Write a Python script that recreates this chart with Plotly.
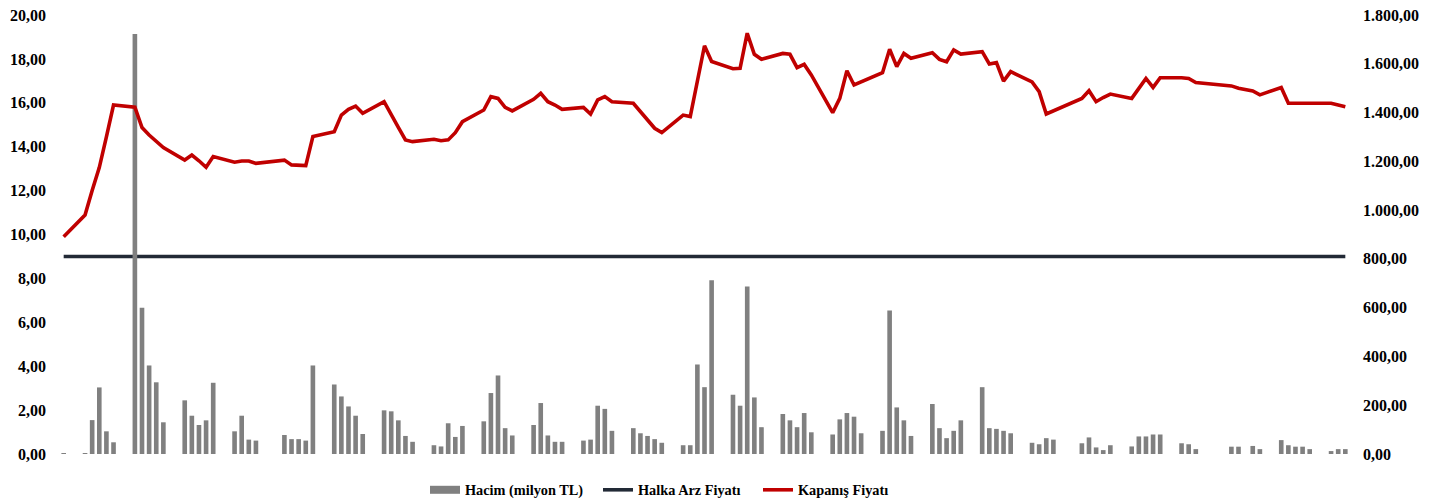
import plotly.graph_objects as go

# Trading-day index (calendar days since the first trading day; weekends/holidays are empty slots)
days = [0, 3, 4, 5, 6, 7, 10, 11, 12, 13, 14, 17, 18, 19, 20, 21, 24, 25, 26, 27,
        31, 32, 33, 34, 35, 38, 39, 40, 41, 42, 45, 46, 47, 48, 49, 52, 53, 54, 55, 56,
        59, 60, 61, 62, 63, 66, 67, 68, 69, 70, 73, 74, 75, 76, 77, 80, 81, 82, 83, 84,
        87, 88, 89, 90, 91, 94, 95, 96, 97, 98, 101, 102, 103, 104, 105, 108, 109, 110, 111, 112,
        115, 116, 117, 118, 119, 122, 123, 124, 125, 126, 129, 130, 131, 132, 133, 136, 137, 138, 139,
        143, 144, 145, 146, 147, 150, 151, 152, 153, 154, 157, 158, 159, 164, 165, 167, 168,
        171, 172, 173, 174, 175, 178, 179, 180]

# Hacim (milyon TL) - right axis
hacim = [4, 4, 139, 273, 93, 48, 1722, 600, 363, 294, 130, 220, 157, 119, 138, 292, 93, 157, 59, 55,
         78, 61, 61, 55, 363, 285, 236, 195, 157, 82, 179, 175, 138, 74, 50, 36, 31, 126, 70, 115,
         134, 250, 322, 106, 76, 119, 209, 76, 50, 50, 55, 59, 198, 185, 95, 106, 85, 74, 61, 46,
         36, 36, 367, 274, 712, 243, 198, 687, 232, 110, 164, 138, 110, 168, 89, 80, 142, 168, 153, 85,
         95, 588, 191, 138, 74, 205, 106, 65, 95, 138, 274, 106, 103, 95, 85, 46, 40, 65, 59,
         44, 68, 27, 16, 36, 31, 72, 72, 80, 80, 44, 40, 20, 30, 30, 33, 20,
         57, 36, 30, 30, 20, 12, 20, 20]

# Kapanis Fiyati (TL) - left axis
kapanis = [9.90, 10.89, 12.00, 13.05, 14.45, 15.90, 15.80, 14.87, 14.53, 14.23, 13.96, 13.39, 13.62, 13.36, 13.06, 13.55,
           13.29, 13.35, 13.35, 13.24, 13.39, 13.17, 13.14, 13.14, 14.46, 14.68, 15.44, 15.70, 15.85, 15.52,
           16.05, 15.44, 14.88, 14.31, 14.23, 14.34, 14.27, 14.31, 14.64, 15.14, 15.67, 16.28, 16.20, 15.79, 15.63,
           16.16, 16.43, 16.05, 15.90, 15.70, 15.79, 15.49, 16.13, 16.28, 16.05, 15.98, 15.59, 15.22, 14.84, 14.64,
           15.44, 15.37, 17.00, 18.60, 17.88, 17.55, 17.57, 19.17, 18.21, 17.98, 18.25, 18.21, 17.60, 17.75, 17.27,
           15.55, 16.20, 17.46, 16.81, 16.96, 17.37, 18.44, 17.65, 18.25, 18.03, 18.28, 17.98, 17.87, 18.41, 18.22,
           18.33, 17.77, 17.83, 16.99, 17.42, 16.95, 16.51, 15.49, 15.64,
           16.20, 16.55, 16.05, 16.24, 16.40, 16.20, 16.69, 17.11, 16.70, 17.14, 17.14, 17.11, 16.92,
           16.77, 16.66, 16.54, 16.36, 16.70, 15.98, 15.98, 16.00, 16.00, 15.98, 15.90, 15.82]

# Halka Arz Fiyati (IPO price, TL)
halka_arz = [9.00] * len(days)

font_family = "Liberation Serif"
bar_color = "#808080"
W, H = 1442, 502

fig = go.Figure()

fig.add_trace(go.Scatter(
    x=days, y=halka_arz, name="Halka Arz Fiyatı", mode="lines",
    line=dict(color="#222a36", width=3.6), yaxis="y", legend="legend2",
))
fig.add_trace(go.Bar(
    x=days, y=hacim, name="Hacim (milyon TL)",
    marker=dict(color=bar_color, line=dict(width=0)), yaxis="y2", showlegend=False,
))
# legend-only swatch for the volume bars (wide grey rectangle as in the original)
fig.add_trace(go.Scatter(
    x=[None], y=[None], name="Hacim (milyon TL)", mode="lines",
    line=dict(color=bar_color, width=8), yaxis="y2", legend="legend",
))
fig.add_trace(go.Scatter(
    x=days, y=kapanis, name="Kapanış Fiyatı", mode="lines",
    line=dict(color="#c00000", width=3.6), yaxis="y3", legend="legend3",
))

tick_font = dict(family=font_family, size=16, color="#000000", weight="bold")
legend_font = dict(family=font_family, size=14.3, color="#000000", weight="bold")


def leg(px_left):
    return dict(orientation="h", xref="container", yref="container",
                x=px_left / W, xanchor="left", y=12 / H, yanchor="middle",
                font=legend_font, itemwidth=30, bgcolor="rgba(0,0,0,0)")


fig.update_layout(
    width=W, height=H,
    margin=dict(l=53, r=86, t=15, b=48),
    paper_bgcolor="white", plot_bgcolor="white",
    separators=",.",
    bargap=0.35,
    showlegend=True,
    legend=leg(425),
    legend2=leg(598),
    legend3=leg(758),
    xaxis=dict(range=[-1.5, 181.5], showgrid=False, zeroline=False, showticklabels=False,
               showline=False, ticks="", automargin=False),
    yaxis=dict(range=[0, 20], dtick=2, tickformat=".2f", showgrid=False, zeroline=False,
               showline=False, ticks="", tickfont=tick_font, side="left", ticklabelstandoff=6,
               automargin=False),
    yaxis2=dict(range=[0, 1800], dtick=200, tickformat=",.2f", showgrid=False, zeroline=False,
                showline=False, ticks="", tickfont=tick_font, side="right", overlaying="y",
                ticklabelstandoff=6, automargin=False),
    yaxis3=dict(range=[0, 20], showgrid=False, zeroline=False, showticklabels=False,
                showline=False, ticks="", overlaying="y", side="left", automargin=False),
)

fig.write_html("out.html", config={"displayModeBar": False},
               post_script="document.body.style.margin='0';")
